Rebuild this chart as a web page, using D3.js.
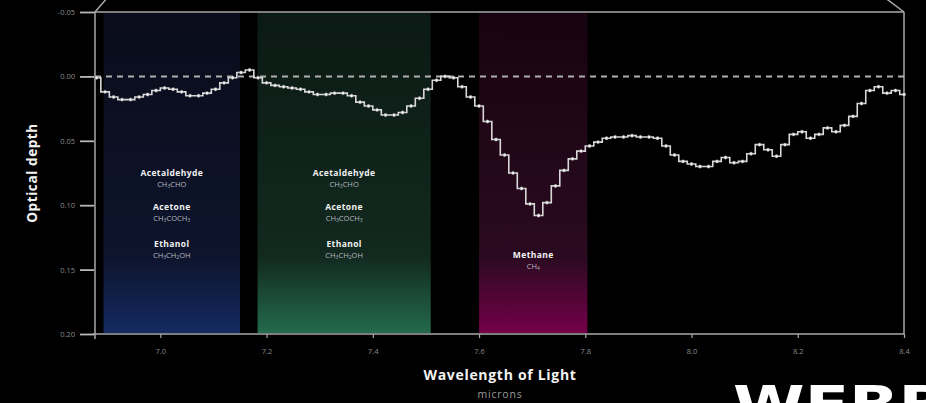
<!DOCTYPE html>
<html>
<head>
<meta charset="utf-8">
<script src="https://cdn.jsdelivr.net/npm/d3@7"></script>
<style>
  html, body { margin: 0; padding: 0; background: #000; overflow: hidden; }
  svg { display: block; }
</style>
</head>
<body>
<svg id="chart" width="926" height="403"></svg>
<script>
// Transmission spectrum: optical depth against wavelength (microns)
const wavelength = [
  6.880, 6.896, 6.912, 6.928, 6.944, 6.960, 6.976, 6.992, 7.008, 7.024,
  7.040, 7.056, 7.072, 7.088, 7.104, 7.120, 7.136, 7.152, 7.168, 7.184,
  7.200, 7.216, 7.232, 7.248, 7.264, 7.280, 7.296, 7.312, 7.328, 7.344,
  7.360, 7.376, 7.392, 7.408, 7.424, 7.440, 7.456, 7.472, 7.488, 7.504,
  7.520, 7.536, 7.552, 7.568, 7.584, 7.600, 7.616, 7.632, 7.648, 7.664,
  7.680, 7.696, 7.712, 7.728, 7.744, 7.760, 7.776, 7.792, 7.808, 7.824,
  7.840, 7.856, 7.872, 7.888, 7.904, 7.920, 7.936, 7.952, 7.968, 7.984,
  8.000, 8.016, 8.032, 8.048, 8.064, 8.080, 8.096, 8.112, 8.128, 8.144,
  8.160, 8.176, 8.192, 8.208, 8.224, 8.240, 8.256, 8.272, 8.288, 8.304,
  8.320, 8.336, 8.352, 8.368, 8.384, 8.400
];
const opticalDepth = [
  0.001, 0.012, 0.016, 0.018, 0.018, 0.016, 0.014, 0.011, 0.009, 0.010,
  0.012, 0.015, 0.015, 0.013, 0.010, 0.005, 0.001, -0.003, -0.005, 0.001,
  0.005, 0.007, 0.008, 0.009, 0.010, 0.012, 0.014, 0.014, 0.013, 0.013,
  0.015, 0.020, 0.023, 0.026, 0.030, 0.030, 0.028, 0.023, 0.017, 0.010,
  0.003, 0.000, 0.001, 0.008, 0.016, 0.023, 0.035, 0.049, 0.061, 0.075,
  0.087, 0.099, 0.108, 0.098, 0.085, 0.073, 0.064, 0.058, 0.054, 0.051,
  0.048, 0.047, 0.047, 0.046, 0.047, 0.047, 0.048, 0.054, 0.061, 0.066,
  0.068, 0.070, 0.070, 0.066, 0.063, 0.067, 0.066, 0.060, 0.053, 0.057,
  0.062, 0.053, 0.045, 0.043, 0.048, 0.045, 0.040, 0.043, 0.038, 0.031,
  0.021, 0.011, 0.008, 0.013, 0.011, 0.014
];

const xTicks = [7.0, 7.2, 7.4, 7.6, 7.8, 8.0, 8.2, 8.4];
const yTicks = [-0.05, 0.00, 0.05, 0.10, 0.15, 0.20];

// Absorption bands and the molecules attributed to each
const bandStart = [6.893, 7.183, 7.600];
const bandEnd   = [7.150, 7.509, 7.804];
const bandColors = [
  ["#0a0c1a", "#0d142c", "#152a62"],
  ["#0b1a14", "#12291f", "#236a4c"],
  ["#180310", "#2a0a20", "#740049"]
];
const bandMolecules = [
  ["Acetaldehyde", "Acetone", "Ethanol"],
  ["Acetaldehyde", "Acetone", "Ethanol"],
  ["Methane"]
];
// formula pieces: [text, isSubscript]
const bandFormulas = [
  [[["CH",0],["3",1],["CHO",0]], [["CH",0],["3",1],["COCH",0],["3",1]], [["CH",0],["3",1],["CH",0],["2",1],["OH",0]]],
  [[["CH",0],["3",1],["CHO",0]], [["CH",0],["3",1],["COCH",0],["3",1]], [["CH",0],["3",1],["CH",0],["2",1],["OH",0]]],
  [[["CH",0],["4",1]]]
];
// vertical placement of each label block, in optical-depth units
const labelRows = [
  [0.0775, 0.1035, 0.1325],
  [0.0775, 0.1035, 0.1325],
  [0.1412]
];

const svg = d3.select("#chart");
const W = 926, H = 403;
const plotL = 95, plotR = 904, plotT = 12, plotB = 334;

const x = d3.scaleLinear().domain([6.877, 8.4]).range([plotL, plotR]);
const y = d3.scaleLinear().domain([-0.05, 0.20]).range([plotT, plotB]);

svg.append("rect").attr("width", W).attr("height", H).attr("fill", "#000");

// gradients for bands
const defs = svg.append("defs");
bandColors.forEach((c, i) => {
  const g = defs.append("linearGradient").attr("id", "band" + i)
    .attr("x1", 0).attr("y1", 0).attr("x2", 0).attr("y2", 1);
  g.append("stop").attr("offset", "0%").attr("stop-color", c[0]);
  g.append("stop").attr("offset", "76%").attr("stop-color", c[1]);
  g.append("stop").attr("offset", "100%").attr("stop-color", c[2]);
});

svg.append("g").selectAll("rect").data(bandStart).join("rect")
  .attr("x", (d) => x(d))
  .attr("y", plotT + 1)
  .attr("width", (d, i) => x(bandEnd[i]) - x(d))
  .attr("height", plotB - plotT - 2)
  .attr("fill", (d, i) => `url(#band${i})`);

// band labels
const font = "'Open Sans', 'DejaVu Sans', sans-serif";
bandStart.forEach((s, i) => {
  const cx = (x(s) + x(bandEnd[i])) / 2;
  bandMolecules[i].forEach((name, j) => {
    const yy = y(labelRows[i][j]);
    svg.append("text")
      .attr("x", cx).attr("y", yy)
      .attr("text-anchor", "middle")
      .attr("font-family", font).attr("font-weight", 700)
      .attr("font-size", 8.5).attr("letter-spacing", 0.4)
      .attr("fill", "#f2f2f2")
      .text(name);
    const t = svg.append("text")
      .attr("x", cx).attr("y", yy + 11)
      .attr("text-anchor", "middle")
      .attr("font-family", font)
      .attr("font-size", 7.5)
      .attr("fill", "#b8b8c0");
    bandFormulas[i][j].forEach(([txt, sub]) => {
      t.append("tspan")
        .attr("font-size", sub ? 5 : 7.5)
        .attr("baseline-shift", sub ? "-25%" : null)
        .text(txt);
    });
  });
});

// frame
const frame = svg.append("g").attr("stroke", "#a8a8a8").attr("stroke-width", 1.5).attr("fill", "none");
frame.append("line").attr("x1", plotL - 1).attr("x2", plotR).attr("y1", plotT).attr("y2", plotT);
frame.append("line").attr("x1", plotR).attr("x2", plotR).attr("y1", plotT).attr("y2", plotB);
frame.append("line").attr("x1", plotL).attr("x2", plotL).attr("y1", plotT).attr("y2", plotB + 5);
frame.append("line").attr("x1", plotL).attr("y1", plotT).attr("x2", plotL + 13).attr("y2", plotT - 15);
frame.append("line").attr("x1", plotR).attr("y1", plotT).attr("x2", plotR - 20).attr("y2", plotT - 15);

// x axis
const xAxis = d3.axisBottom(x).tickValues(xTicks).tickFormat(d3.format(".1f")).tickSize(4).tickPadding(11);
const gx = svg.append("g").attr("transform", `translate(0,${plotB})`).call(xAxis);
gx.select(".domain").attr("stroke", "#a8a8a8").attr("stroke-width", 1.5).attr("d", `M${plotL - 2},0H${plotR}`);
gx.selectAll(".tick line").attr("stroke", "#a8a8a8").attr("stroke-width", 1.2);
gx.selectAll(".tick text").attr("fill", "#8a8a8a").attr("font-family", font).attr("font-size", 7.5);

// y axis
const yAxis = d3.axisLeft(y).tickValues(yTicks).tickFormat(d3.format(".2f")).tickSize(14).tickPadding(5);
const gy = svg.append("g").attr("transform", `translate(${plotL - 1},0)`).call(yAxis);
gy.select(".domain").remove();
gy.selectAll(".tick line").attr("stroke", "#b8b8b8").attr("stroke-width", 1.8);
gy.selectAll(".tick text").attr("fill", "#8a8a8a").attr("font-family", font).attr("font-size", 7.5)
  .text((d) => d3.format(".2f")(d).replace("−", "-"));

// zero reference
svg.append("line")
  .attr("x1", plotL).attr("x2", plotR)
  .attr("y1", y(0)).attr("y2", y(0))
  .attr("stroke", "#b0b0b0").attr("stroke-width", 2)
  .attr("stroke-dasharray", "6,5");

// spectrum
const pts = wavelength.map((w, i) => [w, opticalDepth[i]]);
const line = d3.line().x((d) => x(d[0])).y((d) => y(d[1])).curve(d3.curveStep);
svg.append("path").datum(pts)
  .attr("d", line).attr("fill", "none")
  .attr("stroke", "#d8d8d8").attr("stroke-width", 1.6);
svg.append("g").selectAll("circle").data(pts).join("circle")
  .attr("cx", (d) => x(d[0])).attr("cy", (d) => y(d[1]))
  .attr("r", 1.7).attr("fill", "#f4f4f4").attr("stroke", "#777").attr("stroke-width", 0.5);

// axis titles
svg.append("text")
  .attr("transform", `translate(37,${(plotT + plotB) / 2}) rotate(-90)`)
  .attr("text-anchor", "middle")
  .attr("font-family", font).attr("font-weight", 700).attr("font-size", 13.5)
  .attr("letter-spacing", 0.6)
  .attr("fill", "#f2f2f2").text("Optical depth");
svg.append("text")
  .attr("x", 500).attr("y", 380).attr("text-anchor", "middle")
  .attr("font-family", font).attr("font-weight", 700).attr("font-size", 14)
  .attr("letter-spacing", 0.7)
  .attr("fill", "#f2f2f2").text("Wavelength of Light");
svg.append("text")
  .attr("x", 500).attr("y", 398).attr("text-anchor", "middle")
  .attr("font-family", font).attr("font-size", 10.5)
  .attr("letter-spacing", 0.8)
  .attr("fill", "#9a9a9a").text("microns");

// mission wordmark, running off the bottom edge
svg.append("text")
  .attr("x", 733).attr("y", 423)
  .attr("font-family", "'DejaVu Sans', sans-serif").attr("font-weight", 700)
  .attr("font-size", 52)
  .attr("textLength", 215).attr("lengthAdjust", "spacingAndGlyphs")
  .attr("fill", "#ffffff").text("WEBB");
</script>
</body>
</html>
